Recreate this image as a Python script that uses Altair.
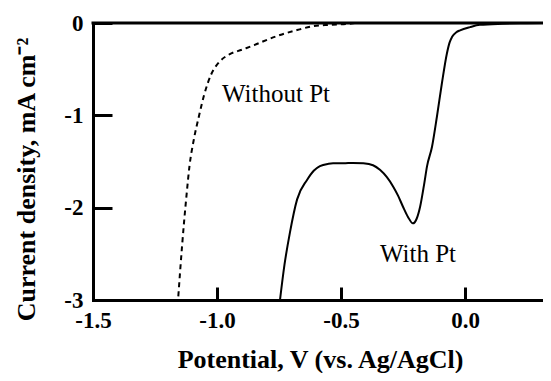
import altair as alt
import pandas as pd

# ---- data ----
with_v = [-0.746, -0.728, -0.706, -0.677, -0.637, -0.610, -0.585, -0.550, -0.532, -0.490,
          -0.452, -0.410, -0.371, -0.343, -0.315, -0.290, -0.270, -0.250, -0.230, -0.210,
          -0.195, -0.181, -0.165, -0.153, -0.133, -0.113, -0.093, -0.073, -0.062, -0.052,
          -0.035, -0.020, 0.020, 0.060, 0.150, 0.250, 0.343]
with_i = [-3.00, -2.62, -2.27, -1.91, -1.70, -1.60, -1.55, -1.525, -1.52, -1.52,
          -1.515, -1.52, -1.54, -1.59, -1.67, -1.77, -1.87, -1.99, -2.10, -2.17,
          -2.12, -1.99, -1.75, -1.55, -1.34, -1.01, -0.65, -0.33, -0.21, -0.15,
          -0.10, -0.08, -0.045, -0.02, -0.008, -0.003, 0.0]

without_v = [-1.156, -1.149, -1.141, -1.132, -1.122, -1.111, -1.094, -1.072, -1.052, -1.024,
             -0.990, -0.950, -0.900, -0.850, -0.815, -0.746, -0.677, -0.613, -0.550, -0.476,
             -0.440]
without_i = [-2.96, -2.70, -2.42, -2.13, -1.84, -1.55, -1.27, -1.00, -0.78, -0.56,
             -0.42, -0.34, -0.29, -0.24, -0.20, -0.13, -0.076, -0.035, -0.02, -0.01,
             0.0]

x_ticks = [-1.5, -1.0, -0.5, 0.0]
y_ticks = [0, -1, -2, -3]

ann_text = ["Without Pt", "With Pt"]
ann_v = [-0.980, -0.343]
ann_i = [-0.854, -2.584]

W, H = 450, 277
FONT = "Liberation Serif"
TICK_COLOR = "black"

xs = alt.Scale(domain=[-1.5, 0.3145], nice=False, zero=False)
ys = alt.Scale(domain=[-3, 0], nice=False, zero=False)

df_with = pd.DataFrame({"V": with_v, "I": with_i})
df_without = pd.DataFrame({"V": without_v, "I": without_i})
df_top = pd.DataFrame({"V": [x_ticks[0]]})
df_ann = pd.DataFrame({"V": ann_v, "I": ann_i, "t": ann_text})

xaxis = alt.Axis(
    orient="bottom", values=x_ticks, ticks=False, grid=False,
    labelExpr="datum.value < 0 ? '-' + format(abs(datum.value), '.1f') : format(datum.value, '.1f')",
    labelFont=FONT, labelFontSize=23, labelFontWeight="bold", labelColor="black",
    labelPadding=9, labelFlush=False,
    domainWidth=3, domainColor="black", domainCap="square",
    title="Potential, V (vs. Ag/AgCl)", titleFont=FONT, titleFontSize=26,
    titleFontWeight="bold", titleColor="black",
    titleX=227, titleY=67, titleAlign="center", titleBaseline="alphabetic",
)
yaxis = alt.Axis(
    orient="left", values=y_ticks, ticks=False, grid=False,
    labelExpr="datum.value < 0 ? '-' + format(abs(datum.value), 'd') : format(datum.value, 'd')",
    labelFont=FONT, labelFontSize=23, labelFontWeight="bold", labelColor="black",
    labelPadding=10, labelFlush=False, labelBaseline="middle",
    domainWidth=3, domainColor="black", domainCap="square",
    title="Current density, mA cm⁻²", titleFont=FONT, titleFontSize=26,
    titleFontWeight="bold", titleColor="black",
    titleX=-67, titleY=156, titleAlign="center", titleBaseline="middle", titleAngle=270,
)

# inward ticks: second axes shifted into the plot
xaxis_ticks = alt.Axis(
    orient="bottom", offset=-13, values=x_ticks, ticks=True, tickSize=13, tickWidth=3,
    tickColor=TICK_COLOR, domain=False, labels=False, grid=False, title=None,
)
yaxis_ticks = alt.Axis(
    orient="left", offset=-19, values=y_ticks, ticks=True, tickSize=19, tickWidth=3,
    tickColor=TICK_COLOR, domain=False, labels=False, grid=False, title=None,
)

with_line = alt.Chart(df_with).mark_line(
    color="black", strokeWidth=2, interpolate="monotone", clip=True
).encode(
    x=alt.X("V:Q", scale=xs, axis=xaxis),
    y=alt.Y("I:Q", scale=ys, axis=yaxis),
    order="V:Q",
)

without_line = alt.Chart(df_without).mark_line(
    color="black", strokeWidth=2, strokeDash=[5, 4], interpolate="monotone", clip=True
).encode(
    x=alt.X("V:Q", scale=xs, axis=xaxis_ticks),
    y=alt.Y("I:Q", scale=ys, axis=yaxis_ticks),
    order="V:Q",
)

top = alt.Chart(df_top).mark_rule(color="black", strokeWidth=3, strokeCap="square").encode(
    x=alt.value(0), x2=alt.value(W), y=alt.value(0)
)

ann = alt.Chart(df_ann).mark_text(
    font=FONT, fontSize=25, color="black", align="left", baseline="alphabetic"
).encode(
    x=alt.X("V:Q", scale=xs, axis=None),
    y=alt.Y("I:Q", scale=ys, axis=None),
    text="t:N",
)

chart = alt.layer(with_line, without_line, top, ann).resolve_axis(
    x="independent", y="independent"
).properties(
    width=W, height=H,
    autosize=alt.AutoSizeParams(type="none"),
    padding={"left": 85, "top": 15, "right": 0, "bottom": 73},
    background="white",
).configure_view(stroke=None)

chart.save("out.html", embed_options={"renderer": "svg", "actions": False})
